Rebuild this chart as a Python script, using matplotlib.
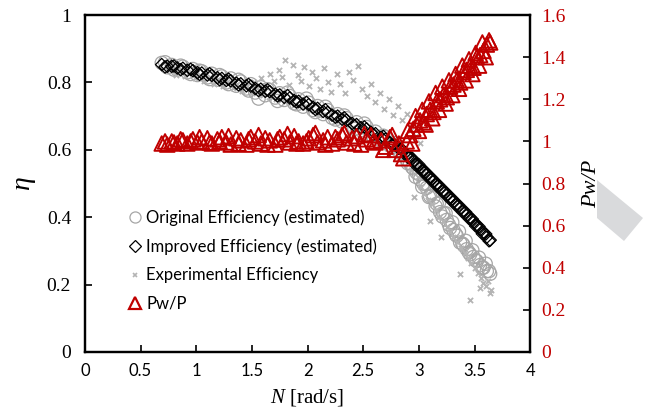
import matplotlib
matplotlib.use('Agg')
import matplotlib.pyplot as plt
from matplotlib.lines import Line2D
from matplotlib.patches import Polygon

plt.rcParams['mathtext.fontset'] = 'custom'
plt.rcParams['mathtext.rm'] = 'Liberation Serif'
plt.rcParams['mathtext.it'] = 'Liberation Serif:italic'

# rotational speed of the estimated series [rad/s], first run
n_est = [0.69, 0.74, 0.78, 0.83, 0.88, 0.92, 0.97, 1.01, 1.05, 1.10, 1.14, 1.19, 1.23,
         1.27, 1.31, 1.36, 1.40, 1.45, 1.49, 1.53, 1.58, 1.62, 1.66, 1.71, 1.75, 1.79,
         1.84, 1.88, 1.92, 1.96, 2.01, 2.05, 2.09, 2.14, 2.18, 2.22, 2.27, 2.31, 2.35,
         2.40, 2.44, 2.48, 2.53, 2.57, 2.61, 2.66, 2.70, 2.74, 2.78, 2.82, 2.86, 2.89,
         2.92, 2.95, 2.98, 3.01, 3.04, 3.07, 3.10, 3.13, 3.16, 3.19, 3.22, 3.25, 3.28,
         3.31, 3.34, 3.37, 3.40, 3.43, 3.46, 3.49, 3.52, 3.55, 3.58, 3.61, 3.64]

eta_improved = [0.853, 0.848, 0.848, 0.843, 0.842, 0.836, 0.835, 0.829, 0.828, 0.822, 0.821,
                0.814, 0.812, 0.806, 0.805, 0.798, 0.796, 0.790, 0.789, 0.782, 0.780, 0.774,
                0.773, 0.765, 0.763, 0.756, 0.754, 0.746, 0.744, 0.736, 0.734, 0.726, 0.723,
                0.714, 0.711, 0.703, 0.700, 0.691, 0.688, 0.678, 0.675, 0.666, 0.662, 0.652,
                0.648, 0.637, 0.632, 0.621, 0.616, 0.604, 0.597, 0.585, 0.579, 0.566, 0.559,
                0.546, 0.539, 0.526, 0.519, 0.506, 0.499, 0.486, 0.479, 0.466, 0.459, 0.446,
                0.439, 0.426, 0.419, 0.406, 0.399, 0.385, 0.377, 0.363, 0.355, 0.341, 0.332]

eta_original = [0.858, 0.845, 0.852, 0.838, 0.847, 0.830, 0.840, 0.822, 0.833, 0.815, 0.826,
                0.808, 0.818, 0.800, 0.812, 0.790, 0.803, 0.782, 0.795, 0.770, 0.786, 0.762,
                0.778, 0.755, 0.768, 0.748, 0.760, 0.738, 0.750, 0.728, 0.740, 0.718, 0.730,
                0.706, 0.718, 0.695, 0.706, 0.684, 0.694, 0.670, 0.682, 0.658, 0.668, 0.644,
                0.654, 0.628, 0.638, 0.612, 0.620, 0.596, 0.585, 0.572, 0.560, 0.545, 0.532,
                0.512, 0.500, 0.487, 0.463, 0.458, 0.440, 0.415, 0.412, 0.392, 0.368, 0.362,
                0.345, 0.325, 0.318, 0.305, 0.290, 0.282, 0.270, 0.258, 0.250, 0.240, 0.232]

pw_ratio = [0.990, 0.985, 1.000, 0.990, 1.005, 0.990, 1.010, 0.995, 1.000, 1.015, 0.990,
            1.010, 1.020, 0.995, 0.985, 1.015, 1.005, 0.985, 1.020, 1.000, 0.990, 1.015,
            1.005, 0.985, 1.020, 1.010, 0.995, 1.025, 1.000, 0.990, 1.015, 1.030, 0.995,
            1.005, 1.020, 0.990, 1.010, 1.030, 0.995, 1.015, 1.025, 0.985, 1.010, 1.030,
            0.995, 1.005, 0.975, 1.020, 0.960, 0.990, 0.920, 1.000, 1.030, 1.060, 1.080,
            1.100, 1.090, 1.130, 1.150, 1.140, 1.190, 1.200, 1.220, 1.210, 1.260, 1.270,
            1.290, 1.280, 1.330, 1.340, 1.360, 1.350, 1.400, 1.410, 1.430, 1.460, 1.470]

# second run of the estimates
n_est_b = [0.72, 0.80, 0.86, 0.95, 1.03, 1.12, 1.21, 1.29, 1.38, 1.47, 1.56, 1.64, 1.73,
           1.82, 1.90, 1.99, 2.07, 2.16, 2.25, 2.33, 2.42, 2.51, 2.59, 2.68, 2.76, 2.84,
           2.90, 2.94, 2.97, 3.00, 3.03, 3.06, 3.09, 3.12, 3.15, 3.18, 3.21, 3.24, 3.27,
           3.30, 3.33, 3.36, 3.39, 3.42, 3.45, 3.48, 3.51, 3.54, 3.57, 3.60, 3.63]

eta_improved_b = [0.846, 0.849, 0.838, 0.839, 0.824, 0.826, 0.808, 0.810, 0.793, 0.794, 0.776,
                  0.778, 0.760, 0.761, 0.742, 0.741, 0.720, 0.719, 0.697, 0.695, 0.672, 0.668,
                  0.645, 0.640, 0.614, 0.603, 0.578, 0.575, 0.555, 0.556, 0.536, 0.535, 0.516,
                  0.515, 0.496, 0.495, 0.476, 0.475, 0.456, 0.455, 0.436, 0.435, 0.416, 0.415,
                  0.396, 0.394, 0.374, 0.372, 0.351, 0.350, 0.330]

eta_original_b = [0.860, 0.838, 0.850, 0.825, 0.835, 0.810, 0.822, 0.795, 0.808, 0.776, 0.752,
                  0.780, 0.745, 0.770, 0.735, 0.752, 0.712, 0.728, 0.690, 0.702, 0.662, 0.678,
                  0.640, 0.642, 0.608, 0.590, 0.560, 0.548, 0.520, 0.528, 0.490, 0.498, 0.460,
                  0.472, 0.432, 0.442, 0.402, 0.412, 0.378, 0.385, 0.350, 0.358, 0.322, 0.330,
                  0.295, 0.302, 0.272, 0.280, 0.250, 0.262, 0.240]

pw_ratio_b = [1.000, 0.995, 1.010, 1.000, 1.020, 0.995, 1.000, 1.025, 0.990, 1.010, 1.030,
              0.985, 1.010, 1.035, 0.990, 1.000, 1.040, 0.985, 1.020, 1.040, 0.990, 1.035,
              1.000, 0.960, 1.030, 0.940, 1.050, 0.990, 1.120, 1.050, 1.150, 1.080, 1.190,
              1.110, 1.230, 1.150, 1.260, 1.180, 1.290, 1.220, 1.320, 1.250, 1.360, 1.290,
              1.390, 1.320, 1.420, 1.360, 1.470, 1.400, 1.480]

# experimental measurements
n_exp = [0.78, 0.82, 0.86, 0.90, 0.95, 0.99, 1.03, 1.07, 1.12, 1.16, 1.20, 1.24, 1.28, 1.33,
         1.37, 1.41, 1.46, 1.50, 1.55, 1.60,
         1.52, 1.58, 1.61, 1.66, 1.70, 1.74, 1.77, 1.80, 1.83, 1.87, 1.91, 1.94, 1.97, 2.01,
         2.04, 2.08, 2.11, 2.15, 2.18, 2.21, 2.26, 2.29, 2.34, 2.37, 2.41, 2.45, 2.49, 2.53,
         2.57, 2.61, 2.65, 2.69, 2.73, 2.77, 2.81, 2.85, 2.89, 2.93, 2.97, 3.01,
         1.65, 1.72, 1.80, 1.88, 1.95, 2.02, 2.10, 2.18, 2.25, 2.32, 2.40, 2.48, 2.55, 2.62,
         2.70, 2.78, 2.85,
         2.93, 2.96, 2.99, 3.02, 3.05, 3.08, 3.10, 3.12, 3.15, 3.18, 3.20, 3.22, 3.25, 3.28,
         3.31, 3.34, 3.37, 3.38, 3.41, 3.44, 3.46, 3.47, 3.50, 3.53, 3.55, 3.56, 3.58, 3.60,
         3.62, 3.64, 3.65]
eta_exp = [0.835, 0.822, 0.838, 0.818, 0.830, 0.812, 0.822, 0.803, 0.815, 0.796, 0.810, 0.790,
           0.802, 0.785, 0.795, 0.776, 0.790, 0.768, 0.784, 0.762,
           0.800, 0.812, 0.790, 0.826, 0.805, 0.838, 0.815, 0.866, 0.792, 0.852, 0.822, 0.805,
           0.846, 0.790, 0.830, 0.812, 0.782, 0.842, 0.800, 0.772, 0.825, 0.795, 0.770, 0.832,
           0.808, 0.848, 0.780, 0.760, 0.795, 0.742, 0.770, 0.722, 0.752, 0.702, 0.730, 0.690,
           0.705, 0.660, 0.640, 0.620,
           0.758, 0.750, 0.742, 0.733, 0.726, 0.716, 0.703, 0.697, 0.686, 0.676, 0.666, 0.652,
           0.643, 0.630, 0.615, 0.598, 0.582,
           0.540, 0.460, 0.520, 0.490, 0.470, 0.450, 0.390, 0.440, 0.420, 0.400, 0.340, 0.390,
           0.370, 0.355, 0.340, 0.325, 0.230, 0.310, 0.295, 0.280, 0.155, 0.265, 0.250, 0.235,
           0.190, 0.220, 0.205, 0.195, 0.210, 0.175, 0.185]

x_ticks = [0, 0.5, 1, 1.5, 2, 2.5, 3, 3.5, 4]
x_ticklabels = ['0', '0.5', '1', '1.5', '2', '2.5', '3', '3.5', '4']
eta_ticks = [0, 0.2, 0.4, 0.6, 0.8, 1]
eta_ticklabels = ['0', '0.2', '0.4', '0.6', '0.8', '1']
pw_ticks = [0, 0.2, 0.4, 0.6, 0.8, 1, 1.2, 1.4, 1.6]
pw_ticklabels = ['0', '0.2', '0.4', '0.6', '0.8', '1', '1.2', '1.4', '1.6']

red = '#c00000'
grey = '#a6a6a6'

fig = plt.figure(figsize=(6.53, 4.19), dpi=100)
ax = fig.add_axes([0.130, 0.160, 0.682, 0.804])

for nn, ee in [(n_est, eta_original), (n_est_b, eta_original_b)]:
    ax.scatter(nn, ee, s=90, facecolors='none', edgecolors=grey, linewidths=0.9, zorder=2)
ax.scatter(n_exp, eta_exp, s=14, marker='x', color='#b4b4b4', linewidths=1.3, zorder=3)
for nn, ee in [(n_est, eta_improved), (n_est_b, eta_improved_b)]:
    ax.scatter(nn, ee, s=40, marker='D', facecolors='none', edgecolors='black', linewidths=0.9, zorder=4)

ax.set_xlim(0, 4)
ax.set_ylim(0, 1)
ax.set_xticks(x_ticks)
ax.set_xticklabels(x_ticklabels, family='Lato', fontsize=12)
ax.set_yticks(eta_ticks)
ax.set_yticklabels(eta_ticklabels, family='Liberation Serif', fontsize=14)
ax.tick_params(axis='both', direction='in', length=5, width=1.2)
ax.tick_params(axis='x', pad=8)
ax.tick_params(axis='y', pad=10)
for sp in ax.spines.values():
    sp.set_linewidth(1.6)

ax.set_xlabel(r'$N$ [rad/s]', family='Liberation Serif', fontsize=15, labelpad=6)
ax.set_ylabel(r'$\eta$', family='Liberation Serif', fontsize=20, labelpad=6)

ax2 = ax.twinx()
for nn, pp in [(n_est, pw_ratio), (n_est_b, pw_ratio_b)]:
    ax2.scatter(nn, pp, s=110, marker='^', facecolors='none', edgecolors=red, linewidths=1.4, zorder=5)
ax2.set_ylim(0, 1.6)
ax2.set_yticks(pw_ticks)
ax2.set_yticklabels(pw_ticklabels, family='Liberation Serif', fontsize=14, color=red)
ax2.tick_params(axis='y', direction='in', length=5, width=1.2, pad=8)
ax2.set_ylabel('Pw/P', family='Liberation Serif', style='italic', fontsize=16, labelpad=12)
for sp in ax2.spines.values():
    sp.set_linewidth(1.6)

handles = [
    Line2D([], [], ls='none', marker='o', ms=8, mfc='none', mec=grey, mew=0.9),
    Line2D([], [], ls='none', marker='D', ms=6, mfc='none', mec='black', mew=0.9),
    Line2D([], [], ls='none', marker='x', ms=3, mec='#b4b4b4', mew=1.2),
    Line2D([], [], ls='none', marker='^', ms=9, mfc='none', mec=red, mew=1.6),
]
labels = ['Original Efficiency (estimated)', 'Improved Efficiency (estimated)',
          'Experimental Efficiency', 'Pw/P']
ax2.legend(handles, labels, loc='upper left', bbox_to_anchor=(0.063, 0.468), frameon=False,
           handlelength=0.8, handletextpad=0.3, labelspacing=0.75,
           prop={'family': 'Lato', 'size': 12})

# grey watermark shape at the right edge
fig.patches.append(Polygon([[597 / 653, 1 - 180 / 419], [643 / 653, 1 - 218 / 419],
                            [624 / 653, 1 - 241 / 419], [597 / 653, 1 - 218 / 419]],
                           closed=True, transform=fig.transFigure, facecolor='#d9dadc',
                           edgecolor='none', zorder=0))

fig.savefig('out.png', dpi=100)
